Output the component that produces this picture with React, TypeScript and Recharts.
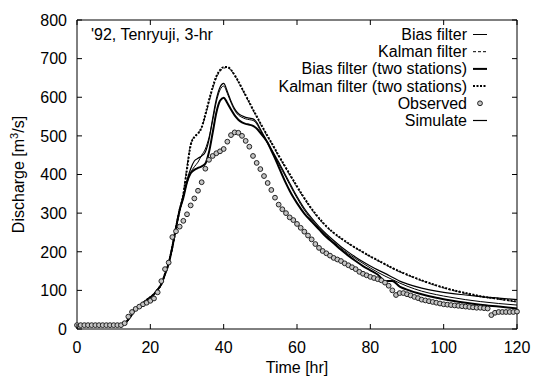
import React from 'react';
import { ComposedChart, Line, XAxis, YAxis, Legend } from 'recharts';

const FONT = "'Liberation Sans', Arial, Helvetica, sans-serif";

const xTicks = [0, 20, 40, 60, 80, 100, 120];
const yTicks = [0, 100, 200, 300, 400, 500, 600, 700, 800];

const annotation = "'92, Tenryuji, 3-hr";

const observedHours = Array.from({ length: 121 }, (_, i) => i);
const observed = [
  10, 10, 10, 10, 10, 10, 10, 10, 10, 10, 10, 10, 10,
  15, 32, 44, 52, 58, 64, 68, 73, 79, 95, 124, 155, 172, 238, 253, 265, 280,
  297, 320, 338, 358, 380, 415, 438, 448, 455, 460, 466, 485, 502, 509, 508,
  500, 487, 472, 448, 430, 414, 396, 378, 360, 340, 322, 310, 300, 289, 282,
  272, 262, 252, 242, 232, 220, 210, 202, 196, 190, 184, 180, 176, 170, 165,
  160, 155, 148, 143, 139, 135, 132, 129, 126, 120, 112, 100, 88, 93, 93,
  90, 87, 83, 80, 76, 74, 72, 70, 68, 66, 64, 63, 62, 61, 60, 59, 58, 57,
  56, 55, 55, 54, 53, 36, 42, 44, 44, 44, 44, 44, 45,
];

const lineTimes = [
  0, 12, 13, 14, 15, 16, 17, 18, 19, 20, 21, 22, 23, 24, 25, 26, 27, 28,
  29, 30, 31, 32, 33, 34, 35, 36, 37, 38, 39, 40, 41, 42, 43, 44, 45, 46,
  47, 48, 49, 50, 51, 52, 53, 54, 55, 56, 57, 58, 59, 60,
  62, 64, 66, 68, 70, 72, 74, 76, 78, 80, 82, 84, 86, 88, 90,
  94, 98, 102, 106, 110, 115, 120,
];

const biasFilter = [
  10, 10, 14, 25, 38, 52, 60, 67, 75, 82, 90, 102, 116, 142, 170, 212, 262, 308,
  342, 378, 405, 420, 432, 450, 466, 496, 540, 588, 619, 629, 610, 586, 566, 554, 548, 544,
  542, 540, 531, 514, 497, 480, 463, 446, 428, 410, 392, 374, 356, 339,
  308, 283, 261, 242, 225, 209, 195, 182, 170, 158, 147, 137, 128, 119, 111,
  98, 89, 82, 76, 71, 66, 62,
];

const kalmanFilter = [
  10, 10, 14, 25, 38, 52, 60, 67, 75, 82, 90, 102, 116, 142, 170, 212, 262, 308,
  352, 420, 478, 498, 507, 522, 552, 588, 622, 650, 667, 675, 677, 670, 656, 640, 622, 603,
  585, 566, 549, 531, 514, 497, 481, 464, 447, 431, 415, 399, 383, 367,
  337, 309, 285, 265, 248, 234, 221, 209, 198, 187, 177, 167, 157, 148, 140,
  125, 112, 101, 92, 84, 77, 70,
];

const biasFilterTwo = [
  10, 10, 14, 25, 38, 52, 60, 67, 75, 82, 90, 102, 116, 142, 170, 212, 262, 308,
  340, 380, 403, 412, 417, 421, 428, 458, 508, 560, 591, 599, 585, 568, 553, 542, 535, 531,
  529, 526, 519, 508, 496, 482, 462, 442, 420, 398, 377, 358, 341, 326,
  299, 278, 258, 238, 222, 205, 190, 176, 163, 152, 141, 124, 124, 110, 102,
  90, 81, 74, 68, 63, 58, 53,
];

const kalmanFilterTwo = [
  10, 10, 14, 25, 38, 52, 60, 67, 75, 82, 90, 102, 116, 142, 170, 212, 262, 308,
  348, 414, 476, 497, 506, 522, 555, 592, 626, 654, 670, 678, 678, 671, 657, 641, 623, 605,
  587, 568, 551, 533, 516, 499, 483, 466, 449, 433, 417, 401, 385, 369,
  339, 311, 287, 266, 249, 235, 222, 210, 199, 188, 178, 168, 158, 149, 141,
  126, 113, 102, 93, 85, 78, 71,
];

const simulate = [
  10, 10, 14, 25, 38, 52, 60, 67, 75, 82, 90, 102, 116, 142, 170, 212, 262, 308,
  345, 385, 415, 435, 442, 448, 458, 490, 545, 595, 626, 636, 615, 590, 570, 558, 552, 548,
  546, 544, 535, 518, 500, 483, 466, 449, 432, 414, 396, 378, 360, 343,
  312, 287, 265, 246, 229, 213, 199, 186, 174, 163, 153, 144, 134, 124, 117,
  106, 98, 92, 88, 84, 80, 76,
];

const seriesList = [
  { key: 'bias', name: 'Bias filter', values: biasFilter, width: 1, dash: undefined as string | undefined },
  { key: 'kalman', name: 'Kalman filter', values: kalmanFilter, width: 1, dash: '3 2' },
  { key: 'biasTwo', name: 'Bias filter (two stations)', values: biasFilterTwo, width: 2, dash: undefined },
  { key: 'kalmanTwo', name: 'Kalman filter (two stations)', values: kalmanFilterTwo, width: 2, dash: '2 1.5' },
  { key: 'simulate', name: 'Simulate', values: simulate, width: 1.2, dash: undefined },
];

const legendOrder = ['bias', 'kalman', 'biasTwo', 'kalmanTwo', 'observed', 'simulate'];
const legendLabels: Record<string, string> = {
  bias: 'Bias filter',
  kalman: 'Kalman filter',
  biasTwo: 'Bias filter (two stations)',
  kalmanTwo: 'Kalman filter (two stations)',
  observed: 'Observed',
  simulate: 'Simulate',
};

const rows: Record<string, number>[] = observedHours.map((h, i) => ({ t: h, observed: observed[i] }));
seriesList.forEach((s) => {
  lineTimes.forEach((t, i) => {
    const row = rows.find((r) => r.t === t);
    if (row) row[s.key] = s.values[i];
  });
});

const TICK = 5;
const MX = 12;
const MY = 10;

const BottomTick = (props: any) => {
  const { x, y, payload } = props;
  return (
    <g>
      <line x1={x} x2={x} y1={y - MX} y2={y - MX - TICK} stroke="#000" strokeWidth={1} />
      <text x={x} y={y} dy="0.72em" textAnchor="middle" fontSize={16} fontFamily={FONT} fill="#000">
        {payload.value}
      </text>
    </g>
  );
};

const LeftTick = (props: any) => {
  const { x, y, payload } = props;
  return (
    <g>
      <line x1={x + MY} x2={x + MY + TICK} y1={y} y2={y} stroke="#000" strokeWidth={1} />
      <text x={x} y={y} dy="0.36em" textAnchor="end" fontSize={16} fontFamily={FONT} fill="#000">
        {payload.value}
      </text>
    </g>
  );
};

const TopTick = (props: any) => {
  const { x, y } = props;
  return <line x1={x} x2={x} y1={y} y2={y + TICK} stroke="#000" strokeWidth={1} />;
};

const RightTick = (props: any) => {
  const { x, y } = props;
  return <line x1={x} x2={x - TICK} y1={y} y2={y} stroke="#000" strokeWidth={1} />;
};

const YLabel = (props: any) => {
  const vb = props.viewBox || { x: 0, y: 20, width: 77, height: 309 };
  const cy = vb.y + vb.height / 2;
  const cx = 24;
  return (
    <text
      x={cx}
      y={cy}
      transform={`rotate(-90, ${cx}, ${cy})`}
      textAnchor="middle"
      fontSize={16}
      fontFamily={FONT}
      fill="#000"
    >
      Discharge [m<tspan dy={-6} fontSize={11}>3</tspan>
      <tspan dy={6}>/s]</tspan>
    </text>
  );
};

const XLabel = (props: any) => {
  const vb = props.viewBox || { x: 77, y: 329, width: 440, height: 49 };
  return (
    <text x={vb.x + vb.width / 2} y={373} textAnchor="middle" fontSize={16} fontFamily={FONT} fill="#000">
      Time [hr]
    </text>
  );
};

const LegendBox = () => {
  const textRight = 467;
  const lineX1 = 473;
  const lineX2 = 487;
  const base0 = 40;
  const step = 17.2;
  return (
    <svg width={534} height={140} style={{ display: 'block' }}>
      <text x={91} y={40} fontSize={16} fontFamily={FONT} fill="#000">
        {annotation}
      </text>
      {legendOrder.map((k, i) => {
        const by = base0 + i * step;
        const ly = by - 5.5;
        const s = seriesList.find((q) => q.key === k);
        return (
          <g key={k}>
            <text x={textRight} y={by} textAnchor="end" fontSize={16} fontFamily={FONT} fill="#000">
              {legendLabels[k]}
            </text>
            {s ? (
              <line x1={lineX1} x2={lineX2} y1={ly} y2={ly} stroke="#000" strokeWidth={s.width} strokeDasharray={s.dash} />
            ) : (
              <circle cx={(lineX1 + lineX2) / 2} cy={ly} r={2.4} fill="#c4c4c4" stroke="#222" strokeWidth={1} />
            )}
          </g>
        );
      })}
    </svg>
  );
};

export default function App() {
  return (
    <div style={{ position: 'absolute', left: 0, top: 0, width: 534, height: 378, background: '#fff' }}>
      <ComposedChart
        width={534}
        height={378}
        data={rows}
        margin={{ top: 19, right: 16, bottom: 0, left: 0 }}
        style={{ background: '#fff' }}
      >
        <XAxis
          xAxisId="bottom"
          dataKey="t"
          type="number"
          domain={[0, 120]}
          ticks={xTicks}
          height={49}
          tickSize={0}
          tickMargin={MX}
          tickLine={false}
          axisLine={{ stroke: '#000', strokeWidth: 1 }}
          tick={<BottomTick />}
          interval={0}
          label={<XLabel />}
        />
        <XAxis
          xAxisId="top"
          orientation="top"
          dataKey="t"
          type="number"
          domain={[0, 120]}
          ticks={xTicks}
          height={1}
          tickSize={0}
          tickMargin={0}
          tickLine={false}
          axisLine={{ stroke: '#000', strokeWidth: 1 }}
          tick={<TopTick />}
          interval={0}
        />
        <YAxis
          yAxisId="left"
          type="number"
          domain={[0, 800]}
          ticks={yTicks}
          width={77}
          tickSize={0}
          tickMargin={MY}
          tickLine={false}
          axisLine={{ stroke: '#000', strokeWidth: 1 }}
          tick={<LeftTick />}
          interval={0}
          label={<YLabel />}
        />
        <YAxis
          yAxisId="right"
          orientation="right"
          type="number"
          domain={[0, 800]}
          ticks={yTicks}
          width={1}
          tickSize={0}
          tickMargin={0}
          tickLine={false}
          axisLine={{ stroke: '#000', strokeWidth: 1 }}
          tick={<RightTick />}
          interval={0}
        />
        <Line
          xAxisId="top"
          yAxisId="right"
          dataKey="observed"
          stroke="none"
          isAnimationActive={false}
          dot={{ r: 2.4, fill: '#c4c4c4', stroke: '#222', strokeWidth: 1 }}
          activeDot={false}
        />
        {seriesList.map((s) => (
          <Line
            key={s.key}
            xAxisId="bottom"
            yAxisId="left"
            dataKey={s.key}
            name={s.name}
            type="monotone"
            stroke="#000"
            strokeWidth={s.width}
            strokeDasharray={s.dash}
            dot={false}
            activeDot={false}
            connectNulls
            isAnimationActive={false}
          />
        ))}
        <Legend
          layout="vertical"
          align="center"
          verticalAlign="middle"
          content={<LegendBox />}
          wrapperStyle={{ left: 0, top: 0, width: 534, height: 140, pointerEvents: 'none' }}
        />
      </ComposedChart>
    </div>
  );
}
